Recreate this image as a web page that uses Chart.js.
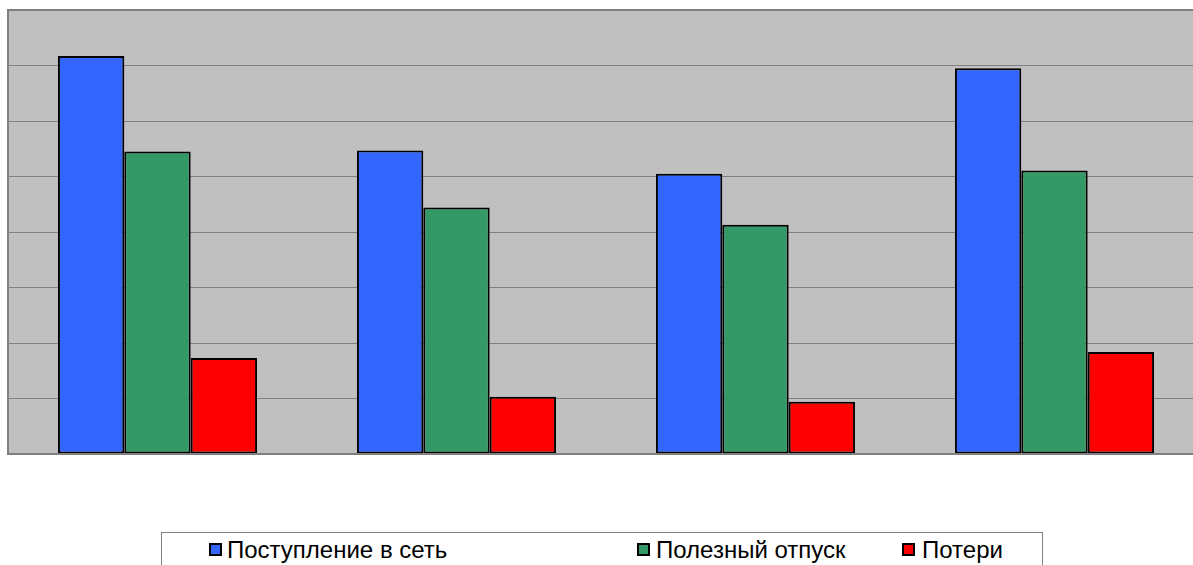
<!DOCTYPE html>
<html>
<head>
<meta charset="utf-8">
<script src="https://cdn.jsdelivr.net/npm/chart.js@4"></script>
<style>
  body { margin: 0; background: #fff; overflow: hidden; width: 1193px; height: 565px; }
  #wrap { position: absolute; left: 0; top: 0; width: 1212px; height: 565px; }
  #legend { position: absolute; left: 161px; top: 532px; width: 880px; height: 40px;
            border: 1px solid #7f7f7f; background: #fff; font-family: "Liberation Sans", Arial, sans-serif;
            font-size: 24px; line-height: 24px; color: #000; }
  #legend .txt { position: absolute; top: 5px; white-space: nowrap; }
  #legend .box { position: absolute; top: 10px; width: 13px; height: 13px; box-sizing: border-box;
                 border: 2px solid #000; }
</style>
</head>
<body>
<div id="wrap"><canvas id="grafico"></canvas></div>
<div id="legend"></div>
<script>
// datos
var categorias = ['1', '2', '3', '4'];
var postuplenie = [7.17, 5.47, 5.05, 6.95];
var poleznyi = [5.45, 4.44, 4.13, 5.11];
var poteri = [1.73, 1.03, 0.94, 1.84];
var nombres = ['Поступление в сеть', 'Полезный отпуск', 'Потери'];
var colores = ['#3366ff', '#339966', '#ff0000'];
var legendBoxX = [47, 475, 740];
var legendTxtX = [65, 494, 760];

// fondo gris y marco del area de trazado
var fondoPlot = {
    id: 'fondoPlot',
    beforeDraw: function (chart) {
        var a = chart.chartArea, c = chart.ctx;
        c.save();
        c.fillStyle = '#c0c0c0';
        c.fillRect(a.left, a.top, a.right - a.left, a.bottom - a.top);
        c.restore();
    },
    afterDraw: function (chart) {
        var a = chart.chartArea, c = chart.ctx;
        c.save();
        c.strokeStyle = '#808080';
        c.lineWidth = 2;
        c.strokeRect(a.left, a.top, a.right - a.left, a.bottom - a.top);
        c.restore();
    }
};

var series = [postuplenie, poleznyi, poteri];
var ctx = document.getElementById('grafico');
var myChart = new Chart(ctx, {
    type: 'bar',
    data: {
        labels: categorias,
        datasets: series.map(function (d, i) {
            return {
                label: nombres[i],
                data: d,
                backgroundColor: colores[i],
                borderColor: '#000000',
                borderWidth: 2,
                borderSkipped: false,
                categoryPercentage: 0.666,
                barPercentage: 1.0
            };
        })
    },
    options: {
        responsive: true,
        maintainAspectRatio: false,
        animation: false,
        layout: { padding: { left: 8, top: 10, right: 8, bottom: 111 } },
        plugins: {
            legend: { display: false },
            tooltip: { enabled: false }
        },
        scales: {
            x: {
                ticks: { display: false },
                grid: { display: false, drawTicks: false },
                border: { display: false }
            },
            y: {
                min: 0,
                max: 8,
                ticks: { display: false, stepSize: 1 },
                grid: { color: '#808080', lineWidth: 1, drawTicks: false },
                border: { display: false }
            }
        }
    },
    plugins: [fondoPlot]
});

// leyenda
var leg = document.getElementById('legend');
myChart.data.datasets.forEach(function (ds, i) {
    var b = document.createElement('span');
    b.className = 'box';
    b.style.left = legendBoxX[i] + 'px';
    b.style.background = ds.backgroundColor;
    leg.appendChild(b);
    var t = document.createElement('span');
    t.className = 'txt';
    t.style.left = legendTxtX[i] + 'px';
    t.textContent = ds.label;
    leg.appendChild(t);
});
</script>
</body>
</html>
